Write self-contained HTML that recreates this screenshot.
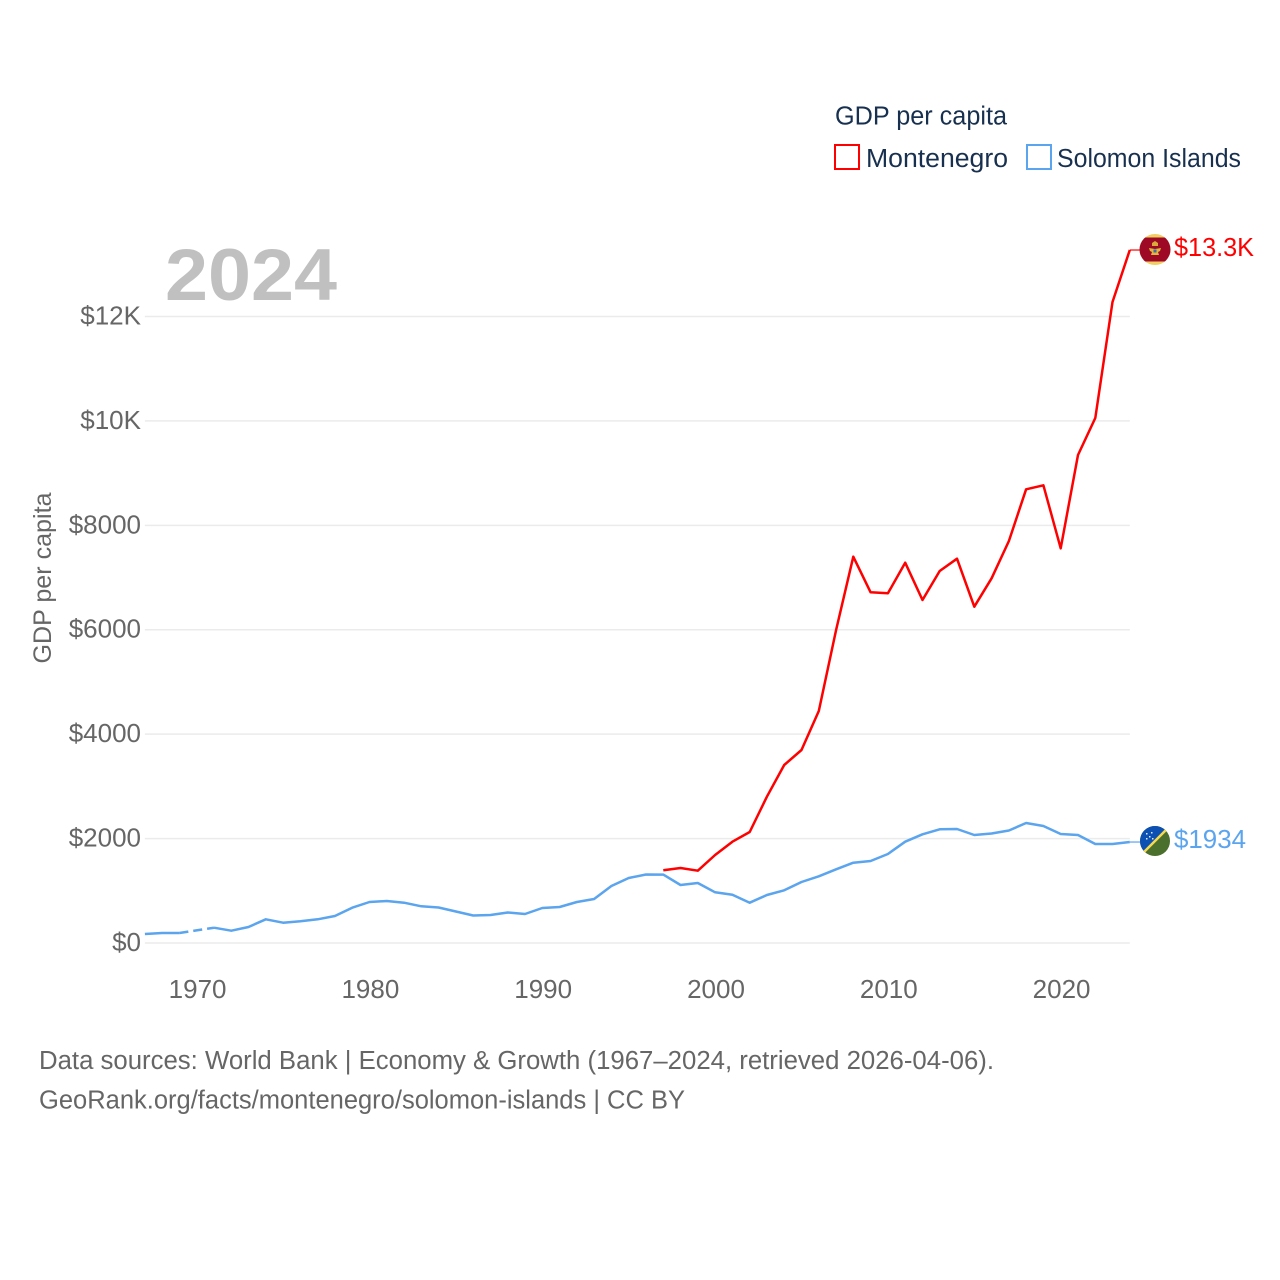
<!DOCTYPE html>
<html lang="en">
<head>
<meta charset="utf-8">
<title>GDP per capita: Montenegro and Solomon Islands</title>
<style>
html,body{margin:0;padding:0;background:#fff}
svg{display:block}
text{font-family:"Liberation Sans",sans-serif}
</style>
</head>
<body>
<svg id="chart" xmlns="http://www.w3.org/2000/svg" width="1280" height="1280" viewBox="0 0 1280 1280">
  <defs>
    <clipPath id="flag-clip-me"><circle cx="1155" cy="249.5" r="15.5"></circle></clipPath>
    <clipPath id="flag-clip-sb"><circle cx="1155" cy="841" r="15"></circle></clipPath>
  </defs>

  <g id="grid"></g>
  <g id="yticks"></g>
  <g id="xticks"></g>

  <text x="165" y="300" font-size="73" font-weight="700" fill="#c0c0c0" textLength="172" lengthAdjust="spacingAndGlyphs">2024</text>

  <text transform="translate(51,578) rotate(-90)" text-anchor="middle" font-size="25" fill="#666666" textLength="171" lengthAdjust="spacingAndGlyphs">GDP per capita</text>

  <g id="series"></g>

  <g>
    <text x="835" y="124.5" font-size="25.5" fill="#18304f" textLength="172" lengthAdjust="spacingAndGlyphs">GDP per capita</text>
    <g>
      <rect x="835" y="145" width="24" height="24" fill="#fff" stroke="#ff0000" stroke-width="2"></rect>
      <text x="866" y="167" font-size="25.5" fill="#18304f" textLength="142" lengthAdjust="spacingAndGlyphs">Montenegro</text>
    </g>
    <g>
      <rect x="1027" y="145" width="24" height="24" fill="#fff" stroke="#5ba4ee" stroke-width="2"></rect>
      <text x="1057" y="167" font-size="25.5" fill="#18304f" textLength="184" lengthAdjust="spacingAndGlyphs">Solomon Islands</text>
    </g>
  </g>

  <g clip-path="url(#flag-clip-me)">
    <rect x="1139" y="233" width="32" height="33" fill="#f2cf63"></rect>
    <rect x="1139" y="237.5" width="32" height="24" fill="#9e0a26"></rect>
    <path d="M1152 243l3-2 3 2v3h-6z" fill="#d9a93a"></path>
    <path d="M1149 248l6 1 6-1-1 3-2 1 1 3h-8l1-3-2-1z" fill="#e0b63f"></path>
    <rect x="1153.5" y="249.5" width="3" height="3" fill="#3d6fa8"></rect>
  </g>

  <g clip-path="url(#flag-clip-sb)">
    <rect x="1140" y="826" width="30" height="30" fill="#4b6f2c"></rect>
    <path d="M1140 826h30l-30 30z" fill="#0c50b4"></path>
    <path d="M1170 826l-30 30" stroke="#f5d94e" stroke-width="2.5" fill="none"></path>
    <g fill="#dfe9f7">
      <rect x="1146" y="833" width="1.5" height="1.5"></rect>
      <rect x="1151" y="832" width="1.5" height="1.5"></rect>
      <rect x="1149" y="836" width="1.5" height="1.5"></rect>
      <rect x="1146" y="838" width="1.5" height="1.5"></rect>
      <rect x="1152" y="838" width="1.5" height="1.5"></rect>
    </g>
  </g>

  <text x="1174" y="256" font-size="25.5" fill="#ff0000" textLength="80" lengthAdjust="spacingAndGlyphs">$13.3K</text>
  <text x="1174" y="848" font-size="25.5" fill="#5ba4ee" textLength="72" lengthAdjust="spacingAndGlyphs">$1934</text>

  <text x="39" y="1069" font-size="25.5" fill="#666666" textLength="955" lengthAdjust="spacingAndGlyphs">Data sources: World Bank | Economy &amp; Growth (1967–2024, retrieved 2026-04-06).</text>
  <text x="39" y="1108.5" font-size="25.5" fill="#666666" textLength="646" lengthAdjust="spacingAndGlyphs">GeoRank.org/facts/montenegro/solomon-islands | CC BY</text>
</svg>

<script>
const firstYear = 1967;
const solomonValues = [172,192,192,null,293,236,306,454,389,416,454,517,676,785,804,772,703,680,603,527,536,584,555,670,690,785,843,1092,1245,1312,1310,1111,1149,971,925,772,919,1009,1168,1278,1412,1538,1571,1705,1940,2082,2178,2184,2069,2097,2155,2298,2241,2088,2069,1896,1896,1934];
const montenegroFirstYear = 1997;
const montenegroValues = [1392,1436,1385,1685,1940,2126,2802,3409,3697,4444,5995,7399,6717,6698,7284,6570,7125,7361,6441,6985,7700,8690,8767,7560,9347,10056,12277,13273];
const yTickValues = [0,2000,4000,6000,8000,10000,12000];
const yTickLabels = ["$0","$2000","$4000","$6000","$8000","$10K","$12K"];
const xTickValues = [1970,1980,1990,2000,2010,2020];

const NS = "http://www.w3.org/2000/svg";
const xScale = function (year) { return 196.7 + (year - 1970) * 17.28; };
const yScale = function (value) { return 943 - value * 0.05221; };

function mk(tag, parent, attrs) {
  const el = document.createElementNS(NS, tag);
  Object.keys(attrs).forEach(function (k) { el.setAttribute(k, attrs[k]); });
  parent.appendChild(el);
  return el;
}

const grid = document.getElementById("grid");
const yticks = document.getElementById("yticks");
const xticks = document.getElementById("xticks");
const seriesGroup = document.getElementById("series");

yTickValues.forEach(function (v, i) {
  const line = mk("line", grid, { x1: xScale(firstYear), x2: xScale(2024), y1: yScale(v), y2: yScale(v), stroke: "#ebebeb", "stroke-width": 1.5 });
  
  
  const t = mk("text", yticks, { x: 141, y: yScale(v) + 8, "text-anchor": "end", "font-size": 26, fill: "#666666" });
  
  
  t.textContent = yTickLabels[i];
});

xTickValues.forEach(function (year) {
  const t = mk("text", xticks, { x: xScale(year) + 0.9, y: 998, "text-anchor": "middle", "font-size": 26, fill: "#666666" });
  
  
  t.textContent = String(year);
});

function drawSeries(startYear, values, color, name) {
  const solid = [];
  let run = [];
  let prev = null;
  values.forEach(function (v, i) {
    if (v === null) {
      if (run.length) solid.push(run);
      run = [];
      return;
    }
    const p = [xScale(startYear + i), yScale(v)];
    if (prev && run.length === 0) {
      const gap = mk("path", seriesGroup, { d: "M" + prev.join(" ") + "L" + p.join(" "), fill: "none", stroke: color, "stroke-width": 2.5, "stroke-dasharray": "9 5" });
      
      
    }
    run.push(p);
    prev = p;
  });
  if (run.length) solid.push(run);
  solid.forEach(function (r) {
    const d = r.map(function (p, i) { return (i ? "L" : "M") + p[0].toFixed(1) + " " + p[1].toFixed(1); }).join("");
    const path = mk("path", seriesGroup, { d: d, fill: "none", stroke: color, "stroke-width": 2.5, "stroke-linejoin": "round" });
    
    path.setAttribute('data-series', name);
    
  });
  const last = prev;
  const conn = mk("line", seriesGroup, { x1: last[0], y1: last[1], x2: 1141, y2: last[1], stroke: color, "stroke-width": 1.2 });
  
  
}

drawSeries(firstYear, solomonValues, "#5ba4ee", "solomon-islands");
drawSeries(montenegroFirstYear, montenegroValues, "#ff0000", "montenegro");
</script>
</body>
</html>
